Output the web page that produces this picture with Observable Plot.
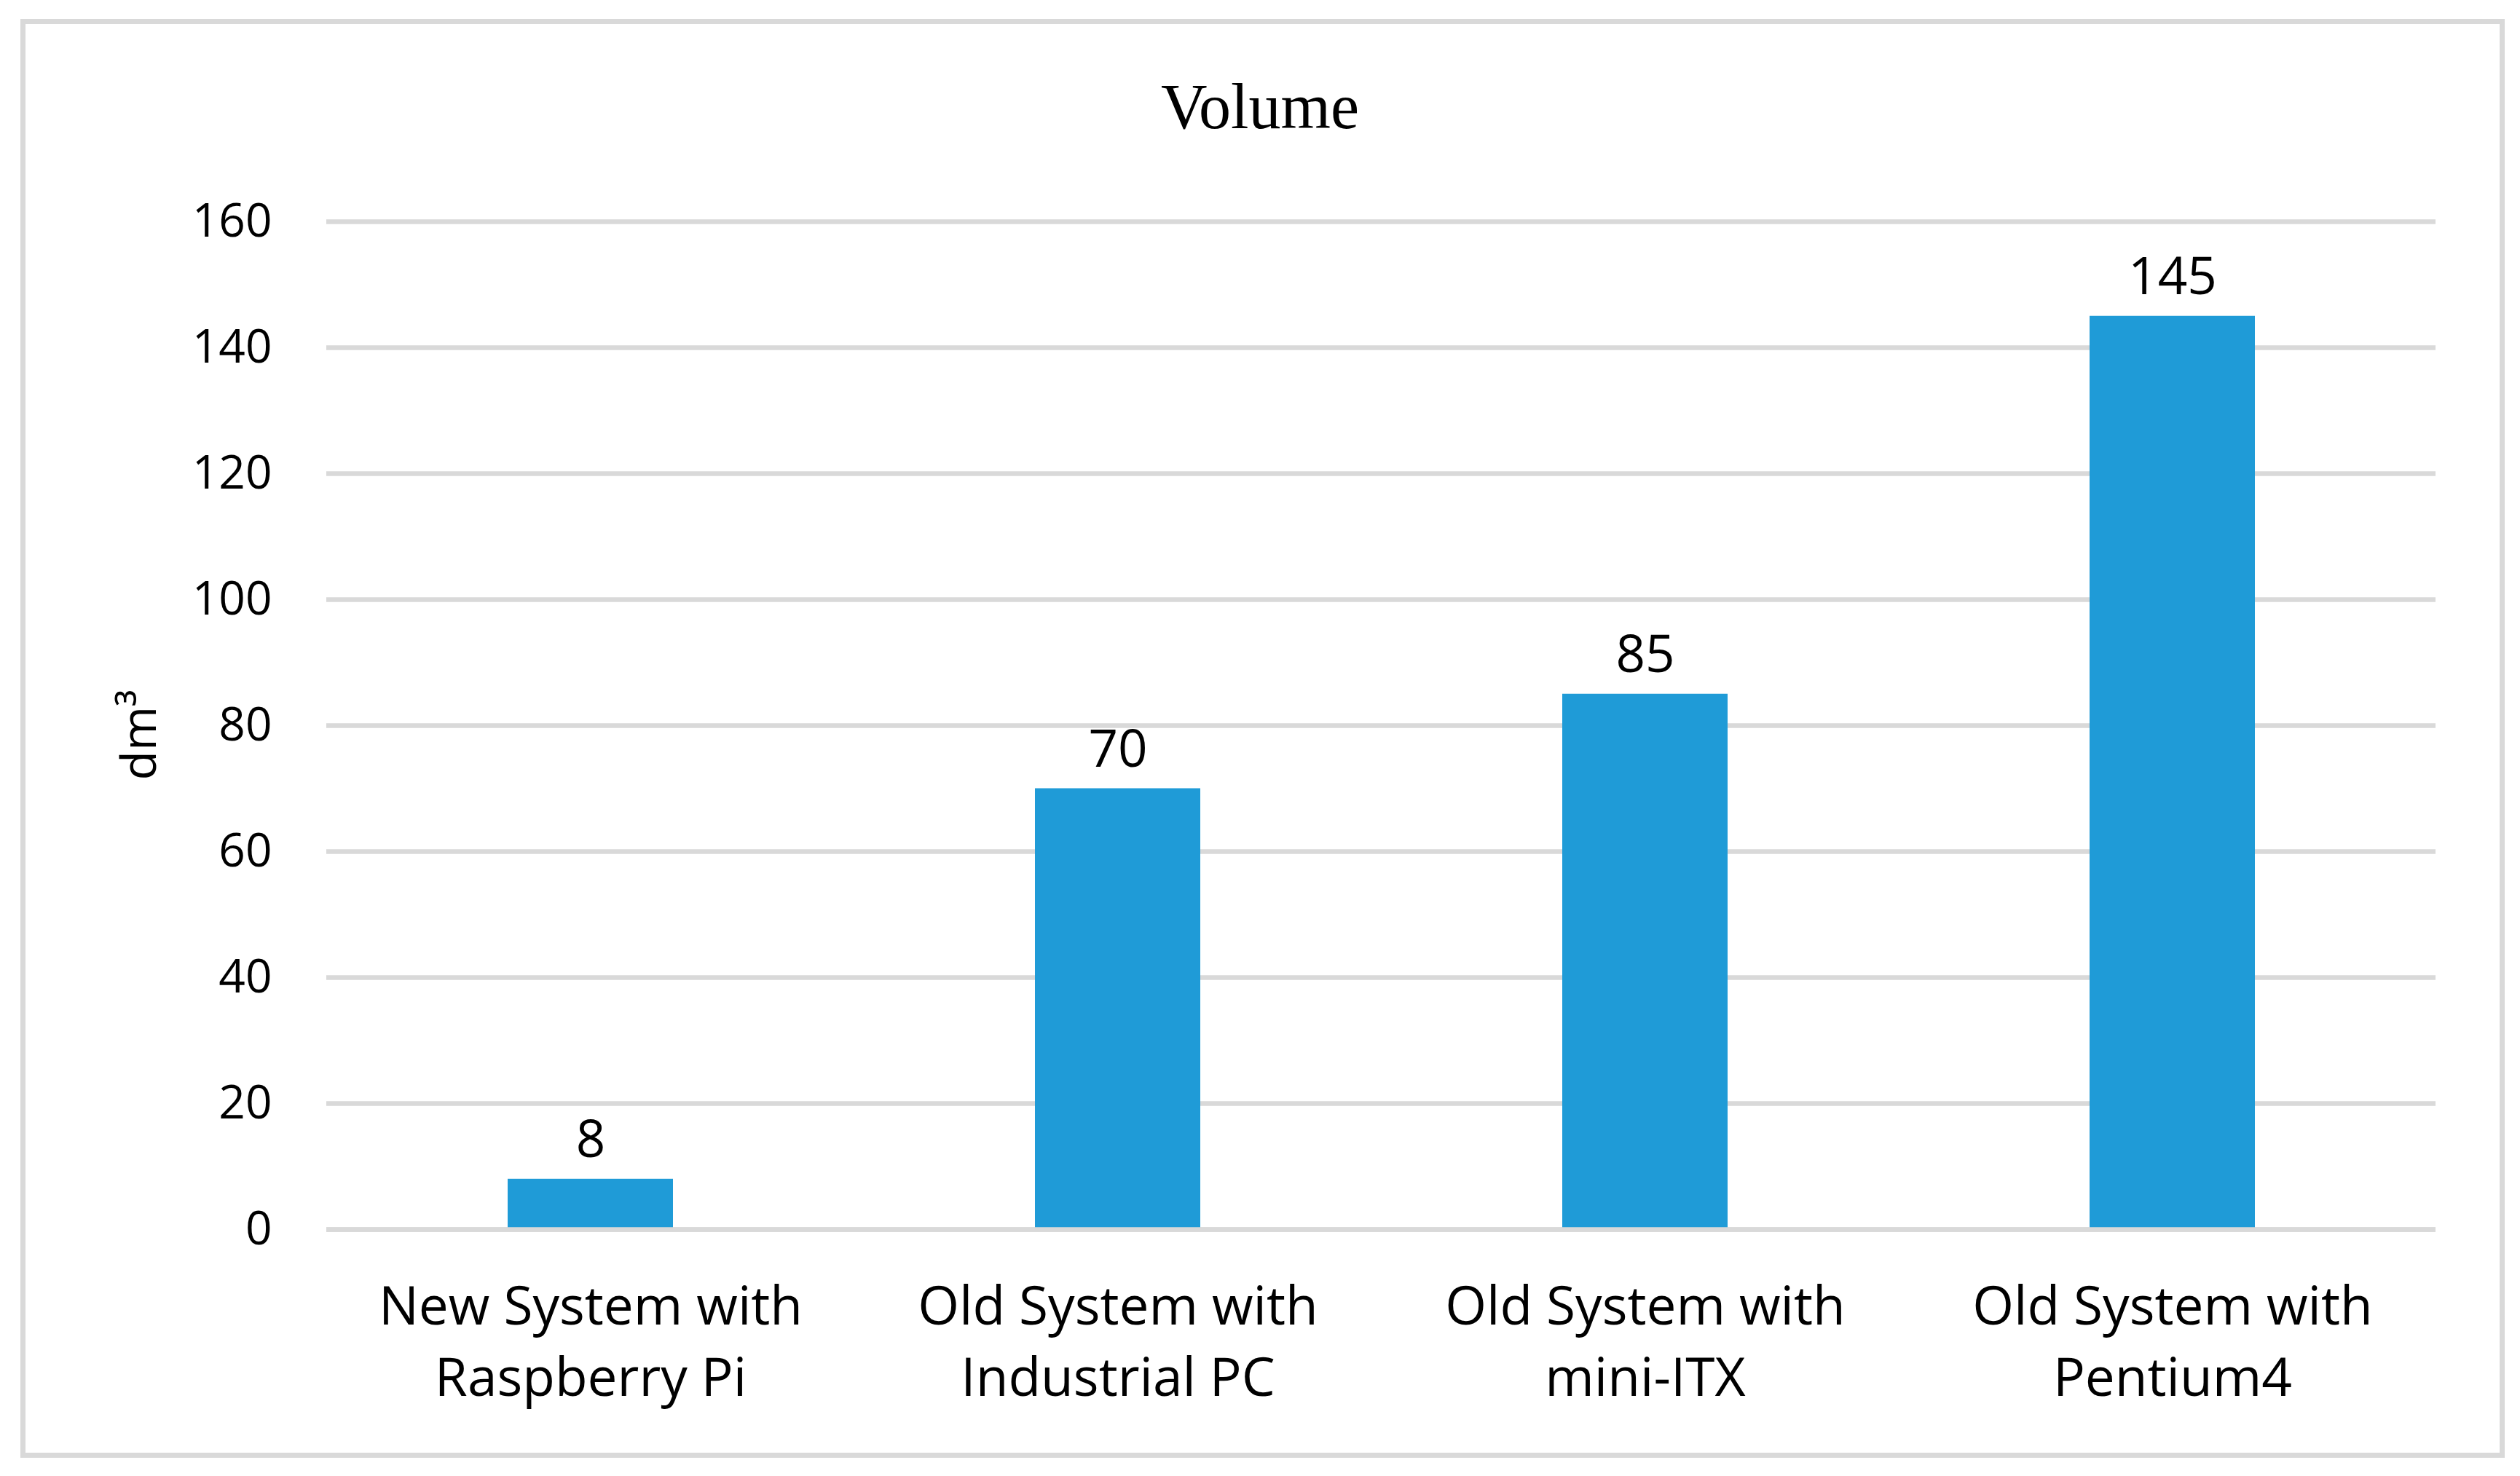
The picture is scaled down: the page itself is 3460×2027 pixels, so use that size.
<!DOCTYPE html>
<html>
<head>
<meta charset="utf-8">
<script src="https://cdn.jsdelivr.net/npm/d3@7"></script>
<script src="https://cdn.jsdelivr.net/npm/@observablehq/plot@0.6"></script>
<style>
  html, body { margin: 0; padding: 0; background: #ffffff; }
  body { width: 3460px; height: 2027px; position: relative; overflow: hidden; }
  #frame { position: absolute; left: 28px; top: 26px; width: 3411px; height: 1976px;
           border: 7px solid #d9d9d9; box-sizing: border-box; z-index: 0; }
  #title { position: absolute; left: 0; top: 103px; width: 3460px; text-align: center;
           font-family: "Liberation Serif", serif; font-size: 88px; line-height: 88px;
           color: #000; z-index: 2; }
  #chart { position: absolute; left: 0; top: 230px; z-index: 1; }
</style>
</head>
<body>
<div id="frame"></div>
<div id="title">Volume</div>
<div id="chart"></div>
<script>
// ---- data ----
const categories = [
  "New System with\nRaspberry Pi",
  "Old System with\nIndustrial PC",
  "Old System with\nmini-ITX",
  "Old System with\nPentium4"
];
const volumes = [8, 70, 85, 145];
const yTicks = [0, 20, 40, 60, 80, 100, 120, 140, 160];
const yLabel = "dm³";

const data = categories.map((c, i) => ({category: c, value: volumes[i]}));

const chart = Plot.plot({
  width: 3460,
  height: 1797,
  marginTop: 74,
  marginBottom: 339,
  marginLeft: 448,
  marginRight: 116,
  style: {background: "transparent", fontFamily: "'Open Sans', sans-serif", color: "#000"},
  x: {domain: categories, paddingInner: 0.6865, paddingOuter: 0.343, axis: null},
  y: {domain: [0, 160], axis: null},
  marks: [
    Plot.ruleY(yTicks, {stroke: "#d9d9d9", strokeWidth: 6.5}),
    Plot.barY(data, {x: "category", y: "value", fill: "#1f9bd7"}),
    Plot.ruleY([0], {stroke: "#d9d9d9", strokeWidth: 6.5}),
    Plot.axisY(yTicks, {tickSize: 0, tickPadding: 75, fontSize: 64, label: null, fill: "#000"}),
    Plot.text(data, {x: "category", y: "value", text: d => String(d.value), dy: -53, fontSize: 71, fill: "#000"}),
    Plot.text(categories, {x: d => d, text: d => d, frameAnchor: "bottom", lineAnchor: "top", dy: 62, lineHeight: 1.33, fontSize: 73, fill: "#000"}),
    Plot.text([yLabel], {text: d => d, frameAnchor: "left", rotate: -90, dx: -256, dy: 75, fontSize: 66, fill: "#000"})
  ]
});
document.getElementById("chart").appendChild(chart);
</script>
</body>
</html>
